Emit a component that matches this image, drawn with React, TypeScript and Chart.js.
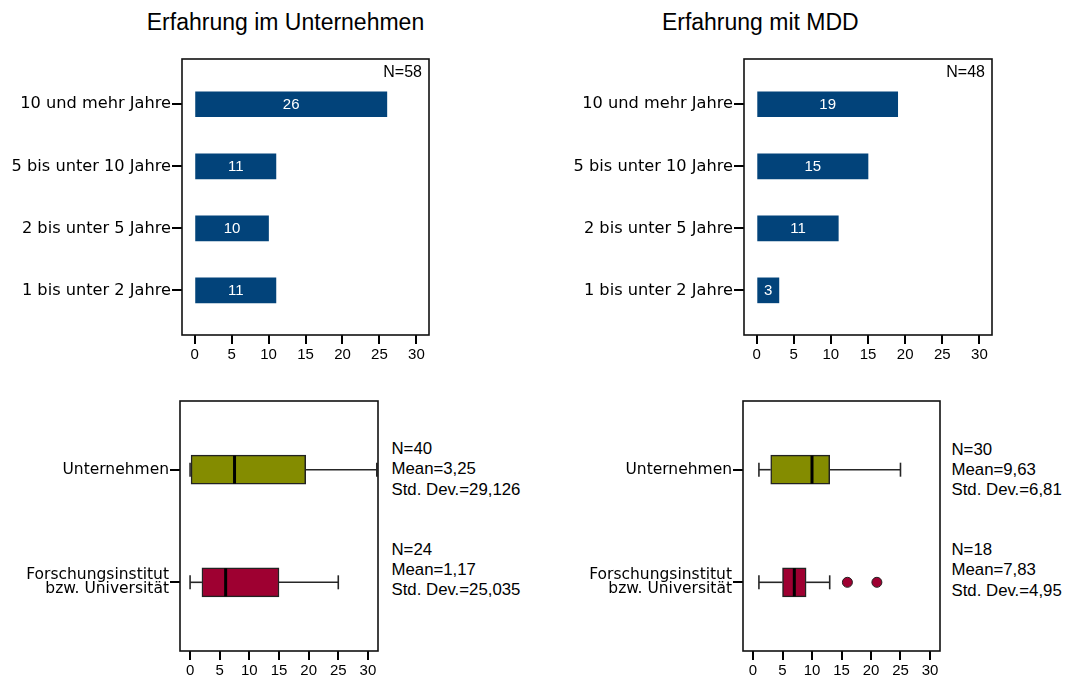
import React, { useEffect, useRef } from 'react';
import { Chart, registerables } from 'chart.js';

Chart.register(...registerables);

// ---------- data ----------
const titles = ['Erfahrung im Unternehmen', 'Erfahrung mit MDD'];
const yearCategories = ['10 und mehr Jahre', '5 bis unter 10 Jahre', '2 bis unter 5 Jahre', '1 bis unter 2 Jahre'];
const countsUnternehmen = [26, 11, 10, 11];
const countsMDD = [19, 15, 11, 3];
const nUnternehmen = 'N=58';
const nMDD = 'N=48';
const xTicks = [0, 5, 10, 15, 20, 25, 30];

const groupLabels: (string | string[])[] = ['Unternehmen', ['Forschungsinstitut', 'bzw. Universität']];

// box plot: Erfahrung im Unternehmen
const minU = [0, 0];
const q1U = [0, 2];
const medU = [7.5, 6];
const q3U = [19.5, 15];
const maxU = [31.5, 25];
const outU: number[][] = [[], []];
const statsU = [
  ['N=40', 'Mean=3,25', 'Std. Dev.=29,126'],
  ['N=24', 'Mean=1,17', 'Std. Dev.=25,035'],
];

// box plot: Erfahrung mit MDD
const minM = [1, 1];
const q1M = [3, 5];
const medM = [10, 7];
const q3M = [13, 9];
const maxM = [25, 13];
const outM: number[][] = [[], [16, 21]];
const statsM = [
  ['N=30', 'Mean=9,63', 'Std. Dev.=6,81'],
  ['N=18', 'Mean=7,83', 'Std. Dev.=4,95'],
];

// ---------- styles ----------
const ARIAL = "Arial, 'Liberation Sans', Helvetica, sans-serif";
const VERD = "'DejaVu Sans', Verdana, sans-serif";
const BLUE = '#02437A';
const GREEN = '#848C00';
const RED = '#9E0031';
const BOX_COLORS = [GREEN, RED];

const frame = {
  id: 'frame',
  afterDraw(chart: any) {
    const { ctx, chartArea } = chart;
    const { left, top, right, bottom } = chartArea;
    ctx.save();
    ctx.strokeStyle = '#111';
    ctx.lineWidth = 1.6;
    ctx.strokeRect(left, top, right - left, bottom - top);
    ctx.restore();
  },
};

type Box = { left: number; top: number; width: number; height: number; yw: number; padTop: number; padRight: number; xh: number };

function xScale(box: Box) {
  return {
    type: 'linear',
    min: -1.7,
    max: 31.7,
    offset: false,
    afterBuildTicks: (s: any) => {
      s.ticks = xTicks.map((v) => ({ value: v }));
    },
    afterFit: (s: any) => {
      s.height = box.xh;
    },
    grid: { offset: false, drawOnChartArea: false, drawTicks: true, tickLength: 9, lineWidth: 2, color: '#000', tickColor: '#000' },
    border: { display: false },
    ticks: { font: { family: ARIAL, size: 15 }, color: '#000', padding: 2, maxRotation: 0, autoSkip: false },
  };
}

function yScale(box: Box, cats: (string | string[])[], min: number, max: number, size: number) {
  return {
    type: 'linear',
    reverse: true,
    min,
    max,
    offset: false,
    afterBuildTicks: (s: any) => {
      s.ticks = cats.map((_, i) => ({ value: i }));
    },
    afterFit: (s: any) => {
      s.width = box.yw;
    },
    grid: { offset: false, drawOnChartArea: false, drawTicks: true, tickLength: 10, lineWidth: 2, color: '#000', tickColor: '#000' },
    border: { display: false },
    ticks: {
      callback: (v: number) => cats[v],
      font: { family: VERD, size, lineHeight: 0.92 },
      color: '#000',
      padding: 1,
      autoSkip: false,
    },
  };
}

function barConfig(box: Box, counts: number[], nText: string) {
  const labelsPlugin = {
    id: 'barLabels',
    afterDatasetsDraw(chart: any) {
      const { ctx, chartArea } = chart;
      const meta = chart.getDatasetMeta(0);
      ctx.save();
      ctx.font = `15px ${ARIAL}`;
      ctx.fillStyle = '#fff';
      ctx.textAlign = 'center';
      ctx.textBaseline = 'middle';
      meta.data.forEach((el: any, i: number) => {
        const p = el.getProps(['x', 'y', 'base'], true);
        ctx.fillText(String(counts[i]), (p.x + p.base) / 2, p.y + 1);
      });
      ctx.font = `16px ${ARIAL}`;
      ctx.fillStyle = '#000';
      ctx.textAlign = 'right';
      ctx.fillText(nText, chartArea.right - 7, chartArea.top + 14);
      ctx.restore();
    },
  };
  return {
    type: 'bar',
    data: {
      datasets: [
        {
          indexAxis: 'y',
          data: counts.map((c, i) => ({ x: c, y: i })),
          backgroundColor: BLUE,
          borderWidth: 0,
          barThickness: 25,
        },
      ],
    },
    options: {
      indexAxis: 'y',
      responsive: false,
      animation: false,
      devicePixelRatio: 1,
      events: [],
      layout: { autoPadding: false, padding: { top: box.padTop, right: box.padRight, left: 0, bottom: 0 } },
      plugins: { legend: { display: false }, tooltip: { enabled: false }, title: { display: false } },
      scales: { x: xScale(box), y: yScale(box, yearCategories, -0.73, 3.72, 16.2) },
    },
    plugins: [labelsPlugin, frame],
  };
}

function boxConfig(box: Box, mins: number[], q1: number[], med: number[], q3: number[], maxs: number[], outs: number[][]) {
  const whiskerStyle = { type: 'line', borderColor: '#262626', borderWidth: 1.6, pointRadius: 0, fill: false, order: 3 };
  const datasets: any[] = [
    {
      type: 'bar',
      indexAxis: 'y',
      data: q1.map((q, i) => ({ x: [q, q3[i]], y: i })),
      backgroundColor: BOX_COLORS,
      borderColor: '#222',
      borderWidth: 1.5,
      borderSkipped: false,
      barThickness: 29,
      order: 2,
    },
    ...q1.map((q, i) => ({ ...whiskerStyle, data: [{ x: mins[i], y: i }, { x: q, y: i }] })),
    ...q3.map((q, i) => ({ ...whiskerStyle, data: [{ x: q, y: i }, { x: maxs[i], y: i }] })),
    {
      type: 'scatter',
      data: [...mins.map((v, i) => ({ x: v, y: i })), ...maxs.map((v, i) => ({ x: v, y: i }))],
      pointStyle: 'line',
      pointRotation: 90,
      pointRadius: 7,
      pointBorderWidth: 1.6,
      pointBorderColor: '#262626',
      order: 1,
    },
    {
      type: 'scatter',
      data: med.map((v, i) => ({ x: v, y: i })),
      pointStyle: 'line',
      pointRotation: 90,
      pointRadius: 14,
      pointBorderWidth: 3,
      pointBorderColor: '#000',
      order: 0,
    },
    {
      type: 'scatter',
      data: outs.flatMap((arr, i) => arr.map((v) => ({ x: v, y: i }))),
      pointStyle: 'circle',
      pointRadius: 5,
      pointBorderWidth: 1,
      pointBorderColor: '#222',
      pointBackgroundColor: RED,
      order: 0,
    },
  ];
  return {
    type: 'bar',
    data: { datasets },
    options: {
      indexAxis: 'y',
      responsive: false,
      animation: false,
      devicePixelRatio: 1,
      events: [],
      layout: { autoPadding: false, padding: { top: box.padTop, right: box.padRight, left: 0, bottom: 0 } },
      plugins: { legend: { display: false }, tooltip: { enabled: false }, title: { display: false } },
      scales: { x: xScale(box), y: yScale(box, groupLabels, -0.61, 1.61, 15.5) },
    },
    plugins: [frame],
  };
}

function ChartCanvas({ box, make }: { box: Box; make: () => any }) {
  const ref = useRef<HTMLCanvasElement>(null);
  useEffect(() => {
    const chart = new Chart(ref.current as HTMLCanvasElement, make());
    return () => chart.destroy();
  }, []);
  return (
    <canvas
      ref={ref}
      width={box.width}
      height={box.height}
      style={{ position: 'absolute', left: box.left, top: box.top, width: box.width, height: box.height }}
    />
  );
}

const boxTL: Box = { left: 0, top: 40, width: 440, height: 330, yw: 182, padTop: 19, padRight: 11, xh: 35 };
const boxTR: Box = { left: 560, top: 40, width: 440, height: 330, yw: 184, padTop: 19, padRight: 8, xh: 35 };
const boxBL: Box = { left: 0, top: 380, width: 390, height: 298, yw: 180, padTop: 21, padRight: 12, xh: 27 };
const boxBR: Box = { left: 560, top: 380, width: 390, height: 298, yw: 183, padTop: 21, padRight: 10, xh: 27 };

function Stats({ lines, left, top }: { lines: string[]; left: number; top: number }) {
  return (
    <div style={{ position: 'absolute', left, top, fontFamily: ARIAL, fontSize: 16.8, lineHeight: '20.3px', color: '#000', whiteSpace: 'nowrap' }}>
      {lines.map((l, i) => (
        <div key={i}>{l}</div>
      ))}
    </div>
  );
}

export default function App() {
  const titleStyle: React.CSSProperties = {
    position: 'absolute',
    top: 11,
    width: 400,
    textAlign: 'center',
    fontFamily: ARIAL,
    fontSize: 23,
    lineHeight: '23px',
    color: '#000',
    whiteSpace: 'nowrap',
  };
  return (
    <div style={{ position: 'absolute', left: 0, top: 0, width: 1069, height: 678, background: '#fff', overflow: 'hidden' }}>
      <div style={{ ...titleStyle, left: 85.5 }}>{titles[0]}</div>
      <div style={{ ...titleStyle, left: 560.3 }}>{titles[1]}</div>
      <ChartCanvas box={boxTL} make={() => barConfig(boxTL, countsUnternehmen, nUnternehmen)} />
      <ChartCanvas box={boxTR} make={() => barConfig(boxTR, countsMDD, nMDD)} />
      <ChartCanvas box={boxBL} make={() => boxConfig(boxBL, minU, q1U, medU, q3U, maxU, outU)} />
      <ChartCanvas box={boxBR} make={() => boxConfig(boxBR, minM, q1M, medM, q3M, maxM, outM)} />
      <Stats lines={statsU[0]} left={391.5} top={439} />
      <Stats lines={statsU[1]} left={391.5} top={539.5} />
      <Stats lines={statsM[0]} left={951.5} top={439.5} />
      <Stats lines={statsM[1]} left={951.5} top={540} />
    </div>
  );
}
